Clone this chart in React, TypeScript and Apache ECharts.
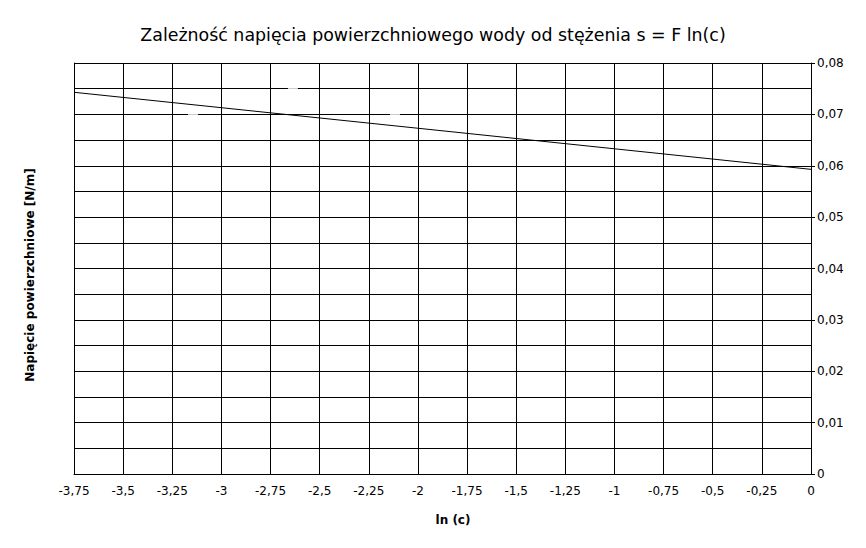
import React, { useEffect, useRef } from "react";
import * as echarts from "echarts";

// Measured points: ln(c) and surface tension [N/m]
const lnC = [-3.144, -2.636, -2.117];
const tension = [0.0701, 0.0749, 0.0701];

// Fitted line s = a + F ln(c), evaluated at the axis ends
const fitX = [-3.75, 0];
const fitY = [0.0743, 0.0593];

const FONT = "DejaVu Sans, Verdana, sans-serif";

const fmt = (v: number) => {
  const n = Number(v.toFixed(3));
  return String(n).replace(".", ",");
};

export default function App() {
  const ref = useRef<HTMLDivElement>(null);

  useEffect(() => {
    if (!ref.current) return;
    const chart = echarts.init(ref.current, null, { renderer: "svg" });
    chart.setOption({
      animation: false,
      backgroundColor: "#ffffff",
      textStyle: { fontFamily: FONT },
      title: {
        text: "Zależność napięcia powierzchniowego wody od stężenia s = F ln(c)",
        left: "center",
        top: 21,
        textStyle: { fontFamily: FONT, fontSize: 17.4, fontWeight: "normal", color: "#000" },
      },
      grid: { left: 74, right: 55, top: 63, bottom: 74 },
      xAxis: {
        type: "value",
        min: -3.75,
        max: 0,
        interval: 0.25,
        axisLine: { show: true, onZero: false, lineStyle: { color: "#000", width: 1 } },
        axisTick: { show: false },
        axisLabel: { color: "#000", fontSize: 12, fontFamily: FONT, margin: 11, formatter: fmt },
        splitLine: { show: true, lineStyle: { color: "#000", width: 1 } },
      },
      yAxis: [
        {
          type: "value",
          position: "right",
          min: 0,
          max: 0.08,
          interval: 0.01,
          axisLine: { show: true, lineStyle: { color: "#000", width: 1 } },
          axisTick: { show: true, length: 4, lineStyle: { color: "#000" } },
          axisLabel: { color: "#000", fontSize: 12, fontFamily: FONT, margin: 6, formatter: fmt },
          splitLine: { show: true, lineStyle: { color: "#000", width: 1 } },
          minorTick: { show: false, splitNumber: 2 },
          minorSplitLine: { show: true, lineStyle: { color: "#000", width: 1 } },
        },
        {
          type: "value",
          position: "left",
          min: 0,
          max: 0.08,
          interval: 0.01,
          axisLine: { show: true, lineStyle: { color: "#000", width: 1 } },
          axisTick: { show: false },
          axisLabel: { show: false },
          splitLine: { show: false },
        },
      ],
      graphic: [
        {
          type: "text",
          x: 453,
          y: 520,
          style: {
            text: "ln (c)",
            fontFamily: FONT,
            fontSize: 12,
            fontWeight: "bold",
            fill: "#000",
            align: "center",
            verticalAlign: "middle",
          },
        },
        {
          type: "text",
          x: 30,
          y: 275,
          rotation: Math.PI / 2,
          style: {
            text: "Napięcie powierzchniowe [N/m]",
            fontFamily: FONT,
            fontSize: 12,
            fontWeight: "bold",
            fill: "#000",
            align: "center",
            verticalAlign: "middle",
          },
        },
      ],
      series: [
        {
          type: "line",
          data: fitX.map((x, i) => [x, fitY[i]]),
          showSymbol: false,
          lineStyle: { color: "#000", width: 1 },
          z: 3,
        },
        {
          type: "scatter",
          data: lnC.map((x, i) => [x, tension[i]]),
          symbol: "rect",
          symbolSize: [10, 3],
          itemStyle: { color: "#ffffff" },
          z: 2,
        },
      ],
    });
    return () => chart.dispose();
  }, []);

  return (
    <div
      ref={ref}
      style={{ position: "fixed", left: 0, top: 0, width: 866, height: 548 }}
    />
  );
}
